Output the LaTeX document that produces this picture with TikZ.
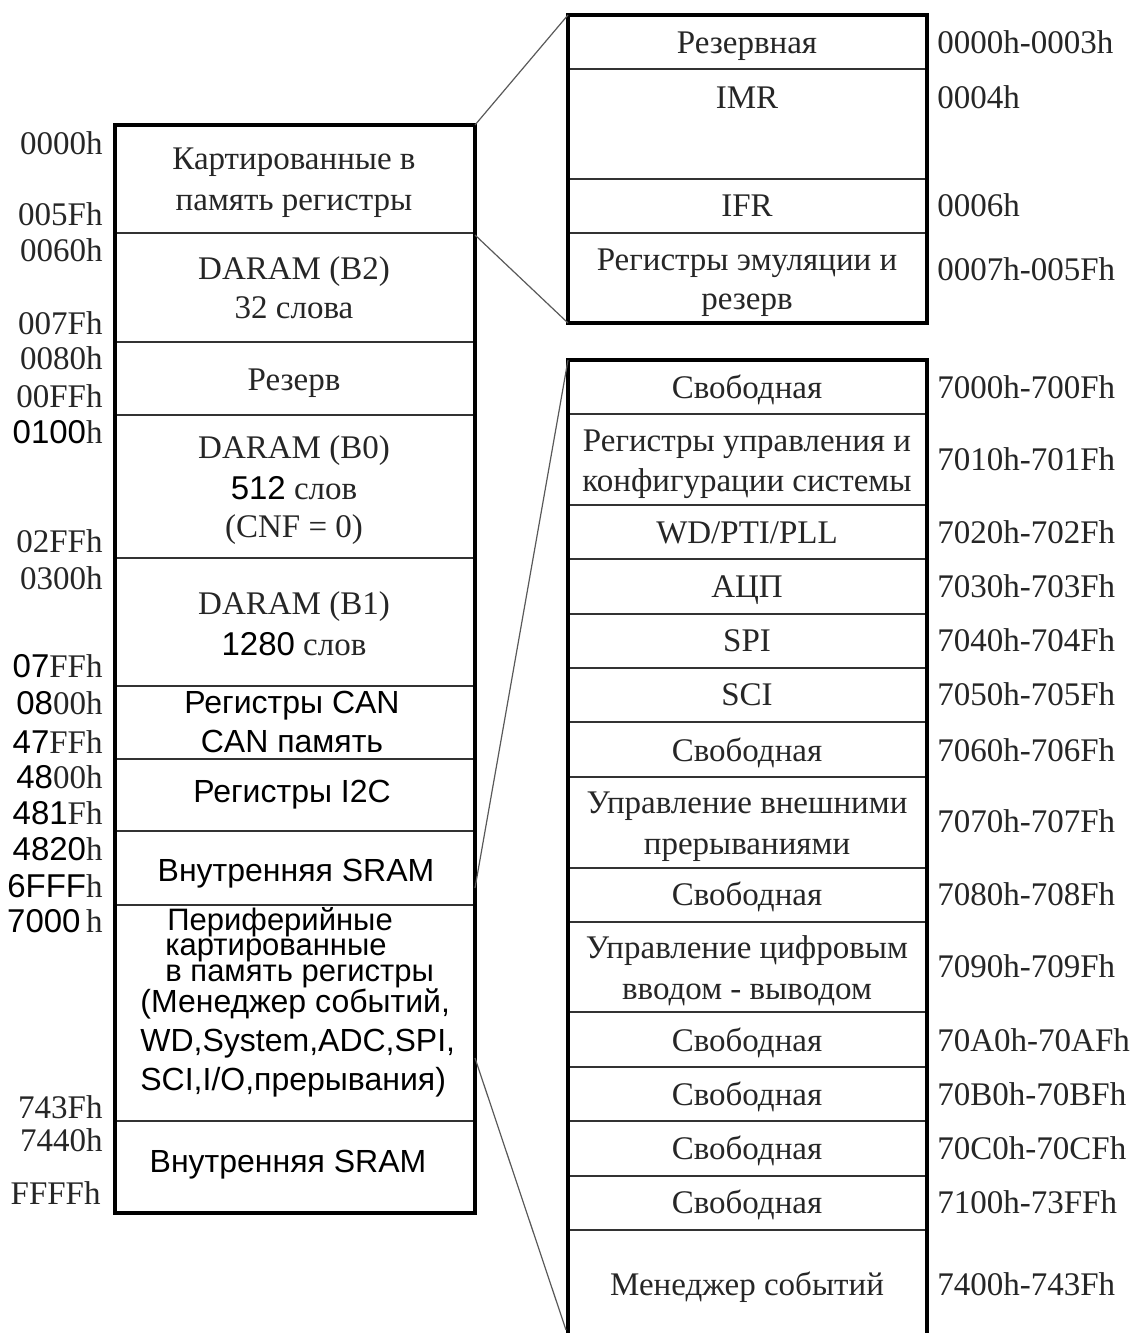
\documentclass[tikz,border=0pt]{standalone}
\usepackage{fontspec}
\setmainfont{Liberation Serif}
\setsansfont{Liberation Sans}
\begin{document}
\begin{tikzpicture}[x=0.5pt,y=-0.5pt,
  border/.style={line width=1.8pt, line cap=rect},
  div/.style={line width=1pt, black!80},
  link/.style={line width=0.6pt, black!65},
  sr/.style={font=\fontsize{16.5}{19}\selectfont, text=black!85, inner sep=0pt, text height=13pt, text depth=2pt},
  ss/.style={font=\sffamily\fontsize{16}{19}\selectfont, text=black, inner sep=0pt, text height=13pt, text depth=2pt},
  lab/.style={sr, anchor=east},
  rlab/.style={sr, anchor=west},
  ssw/.style={ss, anchor=west, font=\sffamily\fontsize{15.5}{17}\selectfont, text height=10pt, text depth=1pt}]
\useasboundingbox (0,0) rectangle (1134,1333);

% ---------- left box ----------
\coordinate (LTL) at (115,125);
\coordinate (LBR) at (475,1213);
\coordinate (LTR) at (475,125);
\coordinate (LB2) at (475,235);
\coordinate (LP1) at (475,888);
\coordinate (LP2) at (475,1058);
\foreach \yy in {233,342,415,558,686,759,831,905,1121}
  \draw[div] (115,\yy) -- (475,\yy);
\draw[border] (LTL) rectangle (LBR);

% ---------- upper right box ----------
\coordinate (UTL) at (568,15);
\coordinate (UBR) at (927,323);
\coordinate (UBL) at (568,323);
\foreach \yy in {69,179,233}
  \draw[div] (568,\yy) -- (927,\yy);
\draw[border] (UTL) rectangle (UBR);

% ---------- lower right box ----------
\coordinate (DTL) at (568,360);
\coordinate (DTR) at (927,360);
\coordinate (DBL) at (568,1333);
\coordinate (DBR) at (927,1333);
\coordinate (DLow) at (566,1330);
\foreach \yy in {414,505,559,614,668,722,777,868,922,1012,1067,1121,1176,1230}
  \draw[div] (568,\yy) -- (927,\yy);
\draw[border, line cap=butt] (DBL) -- (DTL) -- (DTR) -- (DBR);

% ---------- connectors ----------
\draw[link] (LTR) -- (UTL);
\draw[link] (LB2) -- (UBL);
\draw[link] (LP1) -- (DTL);
\draw[link] (LP2) -- (DLow);

% ---------- left address labels ----------
\node[lab] (a1) at (103,143) {0000h};
\node[lab] (a2) at (103,214) {005Fh};
\node[lab] (a3) at (103,250) {0060h};
\node[lab] (a4) at (103,323) {007Fh};
\node[lab] (a5) at (103,358) {0080h};
\node[lab] (a6) at (103,396) {00FFh};
\node[lab] (a7) at (103,432) {{\sffamily\color{black}0100}h};
\node[lab] (a8) at (103,541) {02FFh};
\node[lab] (a9) at (103,578) {0300h};
\node[lab] (a10) at (103,666) {{\sffamily\color{black}07}FFh};
\node[lab] (a11) at (103,703) {{\sffamily\color{black}08}00h};
\node[lab] (a12) at (103,742) {{\sffamily\color{black}47}FFh};
\node[lab] (a13) at (103,777) {{\sffamily\color{black}48}00h};
\node[lab] (a14) at (103,813) {{\sffamily\color{black}481}Fh};
\node[lab] (a15) at (103,849) {{\sffamily\color{black}4820}h};
\node[lab] (a16) at (103,886) {{\sffamily\color{black}6FFF}h};
\node[lab] (a17) at (103,921) {{\sffamily\color{black}7000}\,h};
\node[lab] (a18) at (103,1107) {743Fh};
\node[lab] (a19) at (103,1140) {7440h};
\node[lab] (a20) at (101,1193) {FFFFh};

% ---------- left box texts ----------
\node[sr] (l1a) at (294,158) {Картированные в};
\node[sr] (l1b) at (294,199) {память регистры};
\node[sr] (l2a) at (294,268) {DARAM (B2)};
\node[sr] (l2b) at (294,307) {32 слова};
\node[sr] (l3) at (294,379) {Резерв};
\node[sr] (l4a) at (294,447) {DARAM (B0)};
\node[sr] (l4b) at (294,488) {{\sffamily\color{black}512} слов};
\node[sr] (l4c) at (294,526) {(CNF = 0)};
\node[sr] (l5a) at (294,603) {DARAM (B1)};
\node[sr] (l5b) at (294,644) {{\sffamily\color{black}1280} слов};
\node[ss] (l6a) at (292,702) {Регистры CAN};
\node[ss] (l6b) at (292,741) {CAN память};
\node[ss] (l7) at (292,791) {Регистры I2C};
\node[ss] (l8) at (296,870) {Внутренняя SRAM};
\node[ssw] (l9a) at (167,921) {Периферийные};
\node[ssw] (l9b) at (165,946) {картированные};
\node[ssw] (l9c) at (165,972) {в память регистры};
\node[ssw, font=\sffamily\fontsize{16}{19}\selectfont] (l9d) at (140,1003) {(Менеджер событий,};
\node[ssw, font=\sffamily\fontsize{16}{19}\selectfont] (l9e) at (140,1042) {WD,System,ADC,SPI,};
\node[ssw, font=\sffamily\fontsize{16}{19}\selectfont] (l9f) at (140,1081) {SCI,I/O,прерывания)};
\node[ss] (l10) at (288,1161) {Внутренняя SRAM};

% ---------- upper right texts ----------
\node[sr] (u1) at (747,43) {Резервная};
\node[sr] (u2) at (747,97) {IMR};
\node[sr] (u3) at (747,205) {IFR};
\node[sr] (u4a) at (747,259) {Регистры эмуляции и};
\node[sr] (u4b) at (747,298) {резерв};
\node[rlab] (ur1) at (937,43) {0000h-0003h};
\node[rlab] (ur2) at (937,97) {0004h};
\node[rlab] (ur3) at (937,205) {0006h};
\node[rlab] (ur4) at (937,269) {0007h-005Fh};

% ---------- lower right texts ----------
\node[sr] (d1) at (747,387) {Свободная};
\node[sr] (d2a) at (747,440) {Регистры управления и};
\node[sr] (d2b) at (747,480) {конфигурации системы};
\node[sr] (d3) at (747,532) {WD/PTI/PLL};
\node[sr] (d4) at (747,586) {АЦП};
\node[sr] (d5) at (747,640) {SPI};
\node[sr] (d6) at (747,694) {SCI};
\node[sr] (d7) at (747,750) {Свободная};
\node[sr] (d8a) at (747,802) {Управление внешними};
\node[sr] (d8b) at (747,843) {прерываниями};
\node[sr] (d9) at (747,894) {Свободная};
\node[sr] (d10a) at (747,947) {Управление цифровым};
\node[sr] (d10b) at (747,988) {вводом - выводом};
\node[sr] (d11) at (747,1040) {Свободная};
\node[sr] (d12) at (747,1094) {Свободная};
\node[sr] (d13) at (747,1148) {Свободная};
\node[sr] (d14) at (747,1202) {Свободная};
\node[sr] (d15) at (747,1284) {Менеджер событий};

\node[rlab] (r1) at (937,387) {7000h-700Fh};
\node[rlab] (r2) at (937,459) {7010h-701Fh};
\node[rlab] (r3) at (937,532) {7020h-702Fh};
\node[rlab] (r4) at (937,586) {7030h-703Fh};
\node[rlab] (r5) at (937,640) {7040h-704Fh};
\node[rlab] (r6) at (937,694) {7050h-705Fh};
\node[rlab] (r7) at (937,750) {7060h-706Fh};
\node[rlab] (r8) at (937,821) {7070h-707Fh};
\node[rlab] (r9) at (937,894) {7080h-708Fh};
\node[rlab] (r10) at (937,966) {7090h-709Fh};
\node[rlab] (r11) at (937,1040) {70A0h-70AFh};
\node[rlab] (r12) at (937,1094) {70B0h-70BFh};
\node[rlab] (r13) at (937,1148) {70C0h-70CFh};
\node[rlab] (r14) at (937,1202) {7100h-73FFh};
\node[rlab] (r15) at (937,1284) {7400h-743Fh};
\end{tikzpicture}
\end{document}
